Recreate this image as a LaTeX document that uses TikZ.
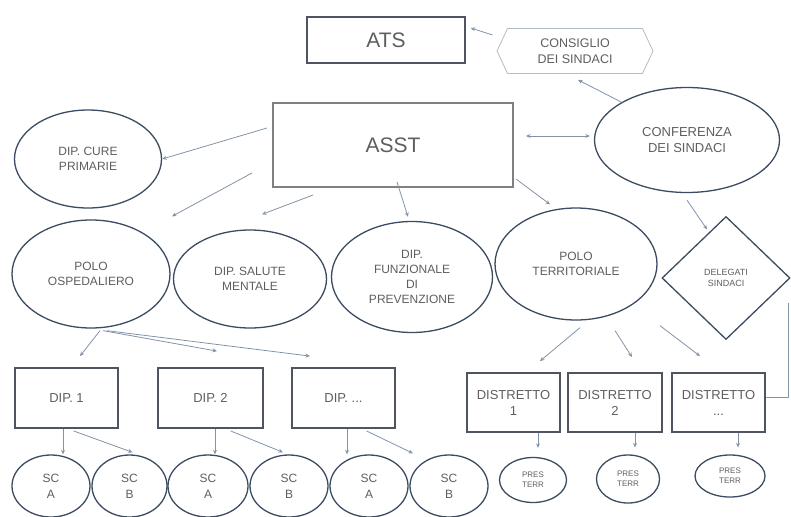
\documentclass[tikz,border=0pt]{standalone}
\usepackage{fontspec}
\setmainfont{Liberation Sans}
\usetikzlibrary{shapes.geometric,shapes.symbols,arrows.meta}
\definecolor{lineblue}{HTML}{3B4B60}
\definecolor{boxgray}{HTML}{4E5560}
\definecolor{arrowgray}{HTML}{8393A8}
\definecolor{hexgray}{HTML}{B4BCC6}
\definecolor{textgray}{HTML}{5E5E5E}
\tikzset{ellnode/.style = {shape = ellipse,
                           draw = lineblue,
                           line width = 1.3pt,
                           inner sep = 0pt,
                           text = textgray,
                           align = center,
                           font = \fontsize{12}{15}\selectfont},
         boxnode/.style = {shape = rectangle,
                           draw = boxgray,
                           line width = 1.8pt,
                           inner sep = 0pt,
                           text = textgray,
                           align = center,
                           font = \fontsize{13}{16}\selectfont},
         arr/.style = {draw = arrowgray,
                       line width = 0.8pt,
                       -{Stealth[length=4.5pt,width=4pt]}}}

\begin{document}
\begin{tikzpicture}[x=1pt,y=-1pt]
		\useasboundingbox (0,0) rectangle (791,516);
		\node[boxnode, line width=1.5pt, minimum width=158pt, minimum height=46pt, font=\fontsize{21}{24}\selectfont] (ats) at (386,40) {ATS};
		\node[shape=signal, signal to=west and east, signal pointer angle=130, draw=hexgray, line width=0.8pt,
		      minimum width=156pt, minimum height=45pt, inner sep=0pt, text=textgray, align=center,
		      font=\fontsize{12.5}{16}\selectfont] (cons) at (575,51) {CONSIGLIO\\DEI SINDACI};
		\node[boxnode, draw=gray, line width=2pt, minimum width=240pt, minimum height=84pt, font=\fontsize{21}{24}\selectfont] (asst) at (393,145) {ASST};
		\node[ellnode, minimum width=185pt, minimum height=105pt, font=\fontsize{13}{16}\selectfont] (conf) at (687,140) {CONFERENZA\\DEI SINDACI};
		\node[ellnode, minimum width=147pt, minimum height=98pt] (cure) at (88,159) {DIP. CURE\\PRIMARIE};
		\node[ellnode, minimum width=158pt, minimum height=108pt] (osp) at (91,274) {POLO\\OSPEDALIERO};
		\node[ellnode, minimum width=153pt, minimum height=98pt] (salute) at (250,279) {DIP. SALUTE\\MENTALE};
		\node[ellnode, minimum width=161pt, minimum height=111pt] (prev) at (412,277) {DIP.\\FUNZIONALE\\DI\\PREVENZIONE};
		\node[ellnode, minimum width=162pt, minimum height=112pt] (terr) at (576,264) {POLO\\TERRITORIALE};
		\node[shape=diamond, draw=lineblue, line width=1.3pt, minimum width=128pt, minimum height=123pt, inner sep=0pt,
		      text=textgray, align=center, font=\fontsize{9}{11}\selectfont] (deleg) at (726,278) {DELEGATI\\SINDACI};
		\node[boxnode, minimum width=103pt, minimum height=60pt] (dip1) at (66.5,398) {DIP. 1};
		\node[boxnode, minimum width=105pt, minimum height=60pt] (dip2) at (210.5,398) {DIP. 2};
		\node[boxnode, minimum width=103pt, minimum height=60pt] (dip3) at (343.5,398) {DIP. ...};
		\node[boxnode, minimum width=93pt, minimum height=59pt] (dist1) at (513.5,402.5) {DISTRETTO\\1};
		\node[boxnode, minimum width=94pt, minimum height=59pt] (dist2) at (615,402.5) {DISTRETTO\\2};
		\node[boxnode, minimum width=93pt, minimum height=59pt] (dist3) at (718.5,402.5) {DISTRETTO\\...};
		\node[ellnode, minimum width=78pt, minimum height=62pt, font=\fontsize{12}{16}\selectfont] (sca1) at (51,486) {SC\\A};
		\node[ellnode, minimum width=75pt, minimum height=62pt, font=\fontsize{12}{16}\selectfont] (scb1) at (129.5,486) {SC\\B};
		\node[ellnode, minimum width=80pt, minimum height=62pt, font=\fontsize{12}{16}\selectfont] (sca2) at (208,486) {SC\\A};
		\node[ellnode, minimum width=78pt, minimum height=62pt, font=\fontsize{12}{16}\selectfont] (scb2) at (289,486) {SC\\B};
		\node[ellnode, minimum width=78pt, minimum height=62pt, font=\fontsize{12}{16}\selectfont] (sca3) at (369,486) {SC\\A};
		\node[ellnode, minimum width=78pt, minimum height=62pt, font=\fontsize{12}{16}\selectfont] (scb3) at (449,486) {SC\\B};
		\node[ellnode, minimum width=67pt, minimum height=45pt, font=\fontsize{8}{10}\selectfont] (pres1) at (533,480) {PRES\\TERR};
		\node[ellnode, minimum width=63pt, minimum height=48pt, font=\fontsize{8}{10}\selectfont] (pres2) at (628,479) {PRES\\TERR};
		\node[ellnode, minimum width=70pt, minimum height=42pt, font=\fontsize{8}{10}\selectfont] (pres3) at (730,476) {PRES\\TERR};
		\path ([xshift=-4pt,yshift=16pt]cons.west) edge[arr] ([xshift=5pt,yshift=12pt]ats.east);
		\path (conf.150) edge[arr] ([xshift=3pt,yshift=-6pt]cons.south);
		\path ([xshift=12pt,yshift=9pt]asst.east) edge[arr, {Stealth[length=4.5pt,width=4pt]}-{Stealth[length=4.5pt,width=4pt]}] ([xshift=-4pt,yshift=4pt]conf.west);
		\path ([xshift=-5pt,yshift=17pt]asst.west) edge[arr] (cure.east);
		\path ([xshift=-20pt,yshift=-28pt]asst.west) edge[arr] ([xshift=81pt,yshift=3pt]osp.north);
		\path ([xshift=-80pt,yshift=-7pt]asst.south) edge[arr] ([xshift=12pt,yshift=15pt]salute.north);
		\path ([xshift=4pt,yshift=6pt]asst.south) edge[arr] ([xshift=-4pt,yshift=4pt]prev.north);
		\path ([xshift=2pt,yshift=9pt]asst.south east) edge[arr] ([xshift=-26pt,yshift=3pt]terr.north);
		\path ([yshift=-7pt]conf.south) edge[arr] ([xshift=-19pt,yshift=-13.5pt]deleg.north);
		\path ([xshift=9pt,yshift=-2pt]osp.south) edge[arr] ([xshift=13.5pt,yshift=11pt]dip1.north);
		\path ([xshift=12pt,yshift=-2pt]osp.south) edge[arr] ([xshift=6.5pt,yshift=16pt]dip2.north);
		\path ([xshift=16pt,yshift=-2pt]osp.south) edge[arr] ([xshift=-33.5pt,yshift=11pt]dip3.north);
		\path ([xshift=-3.5pt]dip1.south) edge[arr] ([xshift=-3.5pt]dip1.south |- sca1.north);
		\path ([xshift=7pt,yshift=-2pt]dip1.south) edge[arr] ([xshift=3pt,yshift=2pt]scb1.north);
		\path ([xshift=4.5pt]dip2.south) edge[arr] ([xshift=4.5pt]dip2.south |- sca2.north);
		\path ([xshift=20pt,yshift=-2pt]dip2.south) edge[arr] ([xshift=-6pt,yshift=2pt]scb2.north);
		\path ([xshift=3.5pt]dip3.south) edge[arr] ([xshift=3.5pt]dip3.south |- sca3.north);
		\path ([xshift=23pt,yshift=-2pt]dip3.south) edge[arr] ([xshift=-36pt,yshift=1pt]scb3.north);
		\path ([xshift=4pt,yshift=-7pt]terr.south) edge[arr] ([xshift=26.5pt,yshift=11pt]dist1.north);
		\path ([xshift=39pt,yshift=-10pt]terr.south) edge[arr] ([xshift=17pt,yshift=15pt]dist2.north);
		\path ([xshift=84pt,yshift=-5pt]terr.south) edge[arr] ([xshift=-18.5pt,yshift=16pt]dist3.north);
		\path ([xshift=24.5pt]dist1.south) edge[arr, shorten >=9pt] ([xshift=24.5pt]dist1.south |- pres1.north);
		\path ([xshift=20pt]dist2.south) edge[arr, shorten >=7pt] ([xshift=20pt]dist2.south |- pres2.north);
		\path ([xshift=19.5pt]dist3.south) edge[arr, shorten >=7pt] ([xshift=19.5pt]dist3.south |- pres3.north);
		\draw[arrowgray, line width=0.8pt] ([xshift=-2pt,yshift=-25pt]deleg.east) |- ([yshift=5pt]dist3.east);
	\end{tikzpicture}
\end{document}
